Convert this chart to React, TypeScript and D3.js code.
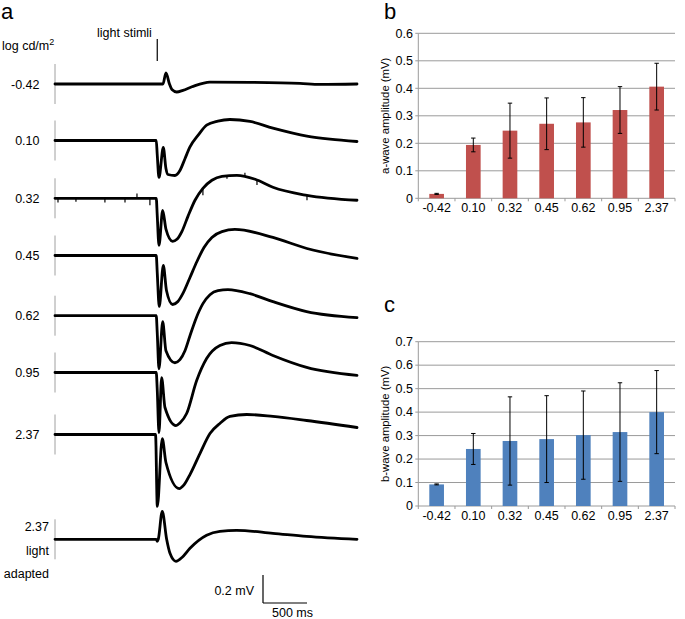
import React from "react";
import * as d3 from "d3";

// ---------- Panel a: ERG traces (time ms, amplitude mV) ----------
const traceLabels = ["-0.42", "0.10", "0.32", "0.45", "0.62", "0.95", "2.37"];

const traceNeg042: [number, number][] = [
  [-1150, 0], [0, 0], [76, 0], [110, 0.079], [150, 0], [178, -0.04], [232, -0.057],
  [303, -0.045], [405, -0.02], [610, 0.014], [1064, 0.012], [1632, 0.004], [1860, -0.003], [2280, 0],
];
const trace010: [number, number][] = [
  [-1150, 0], [0, 0], [11, -0.1], [31, -0.264], [80, -0.05], [110, -0.2], [133, -0.243],
  [212, -0.25], [269, -0.214], [326, -0.13], [383, -0.046], [474, 0.036], [572, 0.11],
  [700, 0.139], [837, 0.15], [1064, 0.136], [1325, 0.089], [1711, 0.032], [1973, 0.01], [2280, -0.007],
];
const trace032: [number, number][] = [
  [-1150, 0], [0, 0], [11, -0.12], [31, -0.336], [73, -0.086], [110, -0.22], [186, -0.307],
  [235, -0.293], [292, -0.236], [360, -0.129], [440, -0.014], [530, 0.071], [632, 0.129],
  [746, 0.157], [916, 0.164], [1123, 0.136], [1325, 0.079], [1711, 0.021], [2280, -0.014],
];
const artifacts032: [number, number][] = [
  [-1116, -0.03], [-912, -0.025], [-583, -0.03], [-355, -0.03], [-219, 0.035], [-72, -0.05],
  [530, -0.05], [803, -0.02], [1007, 0.03], [1144, -0.035], [1712, -0.035],
];
const trace045: [number, number][] = [
  [-1150, 0], [0, 0], [11, -0.12], [34, -0.364], [80, -0.071], [116, -0.25], [186, -0.35],
  [246, -0.329], [303, -0.271], [383, -0.157], [462, -0.043], [542, 0.057], [632, 0.129],
  [746, 0.171], [893, 0.186], [1325, 0.129], [1711, 0.05], [2280, -0.021],
];
const trace062: [number, number][] = [
  [-1150, 0], [0, 0], [11, -0.12], [31, -0.379], [73, -0.043], [110, -0.25], [212, -0.336],
  [269, -0.314], [326, -0.25], [383, -0.143], [451, -0.021], [530, 0.086], [610, 0.15],
  [701, 0.179], [814, 0.186], [1064, 0.157], [1325, 0.1], [1708, 0.029], [2280, -0.014],
];
const trace095: [number, number][] = [
  [-1150, 0], [0, 0], [11, -0.12], [31, -0.429], [61, -0.036], [99, -0.25], [224, -0.379],
  [269, -0.36], [345, -0.293], [459, -0.057], [572, 0.1], [723, 0.193], [856, 0.214],
  [1064, 0.193], [1325, 0.121], [1708, 0.036], [2280, -0.021],
];
const trace237: [number, number][] = [
  [-1150, 0], [-8, 0], [12, -0.514], [68, -0.029], [110, -0.2], [261, -0.386], [315, -0.36],
  [383, -0.286], [496, -0.136], [610, 0.007], [723, 0.079], [837, 0.129], [1027, 0.143],
  [1325, 0.129], [1708, 0.1], [2280, 0.05],
];
const traceLightAdapted: [number, number][] = [
  [-1150, 0], [0, 0], [11, -0.014], [23, 0], [68, 0.2], [118, 0], [156, -0.1], [224, -0.157],
  [292, -0.13], [383, -0.064], [572, 0.029], [723, 0.057], [913, 0.064], [1325, 0.043],
  [1708, 0.021], [2280, 0],
];

// ---------- Panels b & c: bar charts ----------
const categories = ["-0.42", "0.10", "0.32", "0.45", "0.62", "0.95", "2.37"];
const aWaveMean = [0.016, 0.194, 0.246, 0.271, 0.276, 0.321, 0.406];
const aWaveErr = [0.002, 0.025, 0.1, 0.094, 0.09, 0.085, 0.085];
const bWaveMean = [0.092, 0.243, 0.277, 0.285, 0.302, 0.315, 0.4];
const bWaveErr = [0.002, 0.066, 0.188, 0.185, 0.188, 0.21, 0.177];
const aTicks = [0, 0.1, 0.2, 0.3, 0.4, 0.5, 0.6];
const bTicks = [0, 0.1, 0.2, 0.3, 0.4, 0.5, 0.6, 0.7];

const FONT = "'Liberation Sans', Arial, Helvetica, sans-serif";

function BarPanel({
  top, bottom, max, ticks, means, errs, color, title, letter, letterY,
}: {
  top: number; bottom: number; max: number; ticks: number[]; means: number[]; errs: number[];
  color: string; title: string; letter: string; letterY: number;
}) {
  const left = 418.3, right = 675;
  const x = d3.scaleBand<string>().domain(categories).range([left, right]).paddingInner(0.6).paddingOuter(0.3);
  const y = d3.scaleLinear().domain([0, max]).range([bottom, top]);
  const step = x.step();
  const bw = x.bandwidth();
  return (
    <g fontFamily={FONT}>
      <text x={384} y={letterY} fontSize={22} fill="#000">{letter}</text>
      {ticks.map((t) => (
        <g key={t}>
          {t > 0 && <line x1={left} x2={right} y1={y(t)} y2={y(t)} stroke="#9a9a9a" strokeWidth={1} />}
          <line x1={left - 3} x2={left} y1={y(t)} y2={y(t)} stroke="#9a9a9a" strokeWidth={1} />
          <text x={413} y={y(t) + 4.3} fontSize={12.5} textAnchor="end" fill="#000">{t === 0 ? "0" : d3.format(".1f")(t)}</text>
        </g>
      ))}
      <line x1={left} x2={left} y1={top} y2={bottom} stroke="#9a9a9a" strokeWidth={1} />
      <line x1={left} x2={right} y1={bottom} y2={bottom} stroke="#9a9a9a" strokeWidth={1} />
      {d3.range(categories.length + 1).map((i) => (
        <line key={i} x1={left + i * step} x2={left + i * step} y1={bottom} y2={bottom + 3} stroke="#9a9a9a" strokeWidth={1} />
      ))}
      {categories.map((c, i) => {
        const cx = (x(c) as number) + bw / 2;
        return (
          <g key={c}>
            <rect x={x(c)} y={y(means[i])} width={bw} height={bottom - y(means[i])} fill={color} />
            <line x1={cx} x2={cx} y1={y(means[i] + errs[i])} y2={y(means[i] - errs[i])} stroke="#000" strokeWidth={1} />
            <line x1={cx - 2.2} x2={cx + 2.2} y1={y(means[i] + errs[i])} y2={y(means[i] + errs[i])} stroke="#000" strokeWidth={1} />
            <line x1={cx - 2.2} x2={cx + 2.2} y1={y(means[i] - errs[i])} y2={y(means[i] - errs[i])} stroke="#000" strokeWidth={1} />
            <text x={cx} y={bottom + 13.8} fontSize={12.5} textAnchor="middle" fill="#000">{c}</text>
          </g>
        );
      })}
      <text transform={`translate(389,${(top + bottom) / 2}) rotate(-90)`} fontSize={11.3} textAnchor="middle" fill="#000">{title}</text>
    </g>
  );
}

export default function App() {
  const xT = d3.scaleLinear().domain([-1150, 2280]).range([55, 357]);
  const pxPerMv = 140;
  const traces = [traceNeg042, trace010, trace032, trace045, trace062, trace095, trace237, traceLightAdapted];
  const baselines = [84, 140.5, 198.3, 255.5, 315.7, 372.5, 434.5, 539.3];

  const paths = traces.map((tr, i) => {
    const yS = d3.scaleLinear().domain([0, 1]).range([baselines[i], baselines[i] - pxPerMv]);
    const line = d3.line<[number, number]>().x((d) => xT(d[0])).y((d) => yS(d[1])).curve(d3.curveMonotoneX);
    return { d: line(tr) as string, yS };
  });

  // artifact spikes on the 0.32 trace
  const tr032X = trace032.map((d) => d[0]);
  const tr032Y = trace032.map((d) => d[1]);
  const interp = (t: number) => {
    const j = d3.bisectRight(tr032X, t) - 1;
    const k = Math.min(j + 1, tr032X.length - 1);
    if (k === j) return tr032Y[j];
    const f = (t - tr032X[j]) / (tr032X[k] - tr032X[j]);
    return tr032Y[j] + f * (tr032Y[k] - tr032Y[j]);
  };

  const stimX = xT(0);
  const sbX = 263, sbY = 603;
  const hLen = xT(500) - xT(0);
  const vLen = 0.2 * pxPerMv;

  return (
    <svg width={685} height={619} style={{ position: "absolute", left: 0, top: 0, display: "block", background: "#fff" }}>
      <rect x={0} y={0} width={685} height={619} fill="#fff" />
      <g fontFamily={FONT} fill="#000">
        <text x={1} y={19} fontSize={22}>a</text>
        <text x={2} y={50} fontSize={12.5}>log cd/m<tspan dy={-5} fontSize={9}>2</tspan></text>
        <text x={97} y={37} fontSize={12.5}>light stimli</text>
        <line x1={stimX + 1} x2={stimX + 1} y1={39} y2={61} stroke="#000" strokeWidth={1.2} />
        {traceLabels.map((l, i) => (
          <text key={l + i} x={39.5} y={baselines[i] + 4.5} fontSize={12.5} textAnchor="end">{l}</text>
        ))}
        <text x={49} y={531} fontSize={12.5} textAnchor="end">2.37</text>
        <text x={49} y={555} fontSize={12.5} textAnchor="end">light</text>
        <text x={49} y={578} fontSize={12.5} textAnchor="end">adapted</text>
        {baselines.map((b, i) => (
          <line key={i} x1={55} x2={55} y1={b - 20} y2={b + 20} stroke="#a0a0a0" strokeWidth={1} />
        ))}
        {paths.map((p, i) => (
          <path key={i} d={p.d} fill="none" stroke="#000" strokeWidth={2.8} strokeLinejoin="round" strokeLinecap="round" />
        ))}
        {artifacts032.map(([t, a], i) => {
          const yS = paths[2].yS;
          const v = interp(t);
          return <line key={i} x1={xT(t)} x2={xT(t)} y1={yS(v)} y2={yS(v + a)} stroke="#000" strokeWidth={1.2} />;
        })}
        <line x1={sbX} x2={sbX} y1={sbY - vLen} y2={sbY} stroke="#000" strokeWidth={1.2} />
        <line x1={sbX} x2={sbX + hLen} y1={sbY} y2={sbY} stroke="#000" strokeWidth={1.2} />
        <text x={254} y={594.5} fontSize={12.5} textAnchor="end">0.2 mV</text>
        <text x={292.5} y={616.5} fontSize={12.5} textAnchor="middle">500 ms</text>
      </g>
      <BarPanel top={33.3} bottom={198.3} max={0.6} ticks={aTicks} means={aWaveMean} errs={aWaveErr}
        color="#C0504D" title="a-wave amplitude (mV)" letter="b" letterY={19} />
      <BarPanel top={341.7} bottom={506} max={0.7} ticks={bTicks} means={bWaveMean} errs={bWaveErr}
        color="#4F81BD" title="b-wave amplitude (mV)" letter="c" letterY={312} />
    </svg>
  );
}
